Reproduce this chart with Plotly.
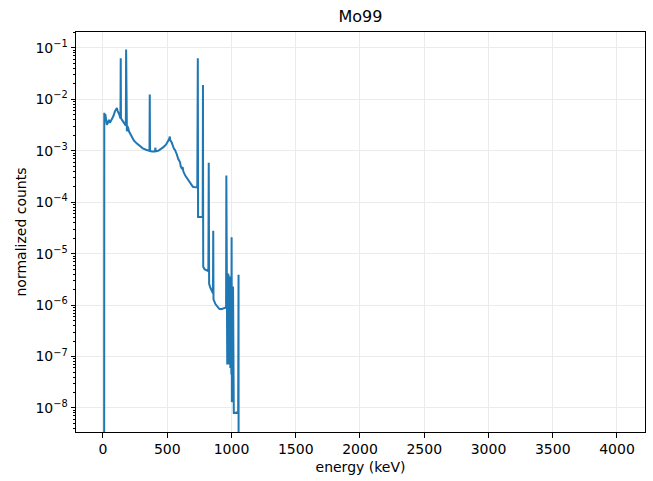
import plotly.graph_objects as go

# Spectrum points (energy keV, normalized counts).
# Zero-count bins (drawn below the log axis) are represented by a tiny value.
ZERO = 1e-20
energy_kev = [
    0, 8, 10, 14, 18, 24, 30, 38, 46, 54, 62, 72, 82, 92, 100, 108, 114, 120,
    128, 134, 136, 138, 140, 148, 156, 164, 172, 178, 180, 182, 186, 190, 196,
    202, 210, 225, 240, 262, 285, 310, 335, 355, 362, 364, 366, 380, 395, 405,
    408, 410, 430, 450, 470, 490, 505, 515, 520, 524, 535, 545, 552, 560, 568,
    575, 585, 595, 600, 605, 612, 620, 625, 640, 655, 670, 685, 700, 720, 734,
    738, 740, 760, 776, 778, 780, 790, 805, 820, 823, 826, 835, 845, 853, 856,
    858, 860, 875, 890, 905, 920, 935, 950, 958, 960, 962, 965, 967, 969, 971,
    973, 975, 977, 979, 981, 983, 985, 987, 989, 991, 993, 995, 997, 999, 1001,
    1003, 1006, 1008, 1012, 1014, 1018, 1030, 1045, 1052, 1055, 1057, 4012,
]
normalized_counts = [
    ZERO, ZERO, 5.5e-3, 4.0e-3, 5.2e-3, 3.6e-3, 3.2e-3, 3.5e-3, 4.0e-3, 3.5e-3,
    3.8e-3, 4.2e-3, 4.8e-3, 5.8e-3, 6.6e-3, 6.8e-3, 6.0e-3, 5.6e-3, 5.0e-3,
    4.4e-3, 4.3e-3, 0.063, 4.3e-3, 4.0e-3, 3.7e-3, 3.5e-3, 3.3e-3, 3.1e-3,
    0.093, 3.0e-3, 2.4e-3, 3.0e-3, 2.8e-3, 2.4e-3, 2.2e-3, 1.85e-3, 1.6e-3,
    1.4e-3, 1.25e-3, 1.12e-3, 1.05e-3, 1.0e-3, 1.0e-3, 0.0125, 1.0e-3, 9.7e-4,
    9.6e-4, 9.8e-4, 1.15e-3, 9.8e-4, 1.0e-3, 1.08e-3, 1.18e-3, 1.32e-3, 1.5e-3,
    1.7e-3, 1.9e-3, 1.6e-3, 1.45e-3, 1.2e-3, 1.1e-3, 1.05e-3, 9.5e-4, 8.5e-4,
    7.0e-4, 6.4e-4, 6.0e-4, 5.0e-4, 4.6e-4, 4.8e-4, 4.0e-4, 3.3e-4, 2.9e-4,
    2.5e-4, 2.2e-4, 2.0e-4, 1.95e-4, 1.95e-4, 0.063, 5.2e-5, 5.2e-5, 5.2e-5,
    0.019, 5.6e-6, 5.0e-6, 4.8e-6, 4.6e-6, 5.9e-4, 2.6e-6, 2.2e-6, 1.9e-6,
    1.7e-6, 1.7e-6, 2.8e-5, 1.3e-6, 1.05e-6, 9.5e-7, 8.5e-7, 8.3e-7, 8.5e-7,
    8.8e-7, 9.0e-7, 3.3e-4, 7e-8, 4.0e-6, 7e-8, 4.2e-6, 1.0e-7, 3.2e-6, 8e-8,
    4.0e-6, 1.1e-7, 2.8e-6, 7e-8, 3.6e-6, 9e-8, 3.3e-6, 6e-8, 3.0e-6, 5e-8,
    2.6e-6, 4.5e-8, 2.1e-5, 1.3e-8, 1.5e-6, 3e-8, 2.3e-6, 1.2e-8, 8e-9, 8e-9,
    8.3e-9, 8.5e-9, 3.9e-6, ZERO, ZERO,
]

x_ticks = [0, 500, 1000, 1500, 2000, 2500, 3000, 3500, 4000]
y_exponents = [-1, -2, -3, -4, -5, -6, -7, -8]
title_text = "Mo99"
x_label = "energy (keV)"
y_label = "normalized counts"

y_tickvals = [10.0 ** e for e in y_exponents]
y_ticktext = [f"10<sup>\u2212{abs(e)}</sup>" for e in y_exponents]
y_minor = [k * 10.0 ** e for e in range(-9, 0) for k in range(2, 10)]

font_family = "DejaVu Sans"

fig = go.Figure()
fig.add_trace(go.Scatter(
    x=energy_kev, y=normalized_counts, mode="lines",
    line=dict(color="#1f77b4", width=2), showlegend=False,
))

fig.update_layout(
    width=653, height=481,
    margin=dict(l=76, r=8, t=32, b=49),
    paper_bgcolor="white", plot_bgcolor="white",
    font=dict(family=font_family, size=14, color="black"),
    title=dict(text=title_text, x=0.5, xref="paper", xanchor="center",
               y=1 - 16 / 481, yref="container", yanchor="middle",
               font=dict(size=16, family=font_family, color="black")),
)

fig.update_xaxes(
    range=[-210, 4218], tickmode="array", tickvals=x_ticks,
    ticks="outside", ticklen=4.5, tickwidth=1, tickcolor="black",
    showline=True, linecolor="black", linewidth=1, mirror=True,
    showgrid=True, gridcolor="#ebebeb", gridwidth=1, zeroline=False,
    title=dict(text=x_label, font=dict(size=14), standoff=5),
)
fig.update_yaxes(
    type="log", range=[-8.467, -0.689], tickmode="array",
    tickvals=y_tickvals, ticktext=y_ticktext,
    ticks="outside", ticklen=4.5, tickwidth=1, tickcolor="black",
    showline=True, linecolor="black", linewidth=1, mirror=True,
    showgrid=True, gridcolor="#ebebeb", gridwidth=1, zeroline=False,
    minor=dict(tickmode="array", tickvals=y_minor, ticks="outside",
               ticklen=2.5, tickwidth=0.8, tickcolor="black", showgrid=False),
    title=dict(text=y_label, font=dict(size=14), standoff=5),
)

fig.write_html("out.html")
